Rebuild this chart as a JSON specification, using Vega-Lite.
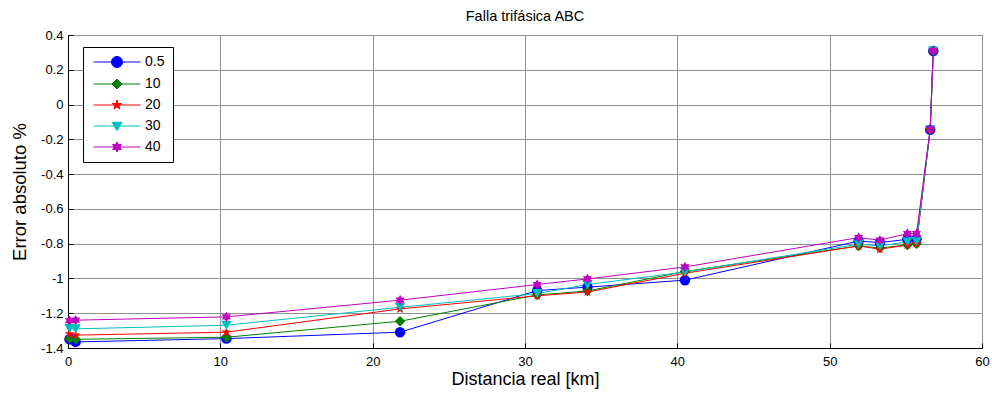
{
  "$schema": "https://vega.github.io/schema/vega-lite/v6.json",
  "width": 914,
  "height": 313,
  "autosize": {"type": "none"},
  "padding": {"left": 68, "top": 35, "right": 10, "bottom": 48},
  "background": "white",
  "title": {"text": "Falla trifásica ABC", "fontSize": 14.5, "fontWeight": "normal", "font": "Liberation Sans", "color": "black", "offset": 5},
  "config": {
    "font": "Liberation Sans",
    "view": {"stroke": "black", "strokeWidth": 1},
    "axis": {
      "labelFont": "Liberation Sans", "labelFontSize": 13, "labelColor": "black",
      "titleFont": "Liberation Sans", "titleFontWeight": "normal", "titleColor": "black",
      "domainColor": "black", "tickColor": "black", "gridColor": "#8f8f8f", "gridWidth": 1,
      "ticks": true, "tickSize": -5, "labelExpr": "'' + datum.value"
    }
  },
  "data": {"values": [
    {"s": "0.5", "d": 0.1, "e": -1.35}, {"s": "0.5", "d": 0.5, "e": -1.365}, {"s": "0.5", "d": 10.4, "e": -1.346}, {"s": "0.5", "d": 21.8, "e": -1.309}, {"s": "0.5", "d": 30.8, "e": -1.07}, {"s": "0.5", "d": 34.1, "e": -1.05}, {"s": "0.5", "d": 40.5, "e": -1.01}, {"s": "0.5", "d": 51.9, "e": -0.785}, {"s": "0.5", "d": 53.3, "e": -0.794}, {"s": "0.5", "d": 55.1, "e": -0.775}, {"s": "0.5", "d": 55.7, "e": -0.775}, {"s": "0.5", "d": 56.6, "e": -0.145}, {"s": "0.5", "d": 56.8, "e": 0.308},
    {"s": "10", "d": 0.1, "e": -1.345}, {"s": "10", "d": 0.5, "e": -1.35}, {"s": "10", "d": 10.4, "e": -1.338}, {"s": "10", "d": 21.8, "e": -1.246}, {"s": "10", "d": 30.8, "e": -1.095}, {"s": "10", "d": 34.1, "e": -1.072}, {"s": "10", "d": 40.5, "e": -0.96}, {"s": "10", "d": 51.9, "e": -0.813}, {"s": "10", "d": 53.3, "e": -0.825}, {"s": "10", "d": 55.1, "e": -0.808}, {"s": "10", "d": 55.7, "e": -0.8}, {"s": "10", "d": 56.6, "e": -0.145}, {"s": "10", "d": 56.8, "e": 0.308},
    {"s": "20", "d": 0.1, "e": -1.319}, {"s": "20", "d": 0.5, "e": -1.326}, {"s": "20", "d": 10.4, "e": -1.309}, {"s": "20", "d": 21.8, "e": -1.175}, {"s": "20", "d": 30.8, "e": -1.1}, {"s": "20", "d": 34.1, "e": -1.078}, {"s": "20", "d": 40.5, "e": -0.97}, {"s": "20", "d": 51.9, "e": -0.813}, {"s": "20", "d": 53.3, "e": -0.832}, {"s": "20", "d": 55.1, "e": -0.808}, {"s": "20", "d": 55.7, "e": -0.8}, {"s": "20", "d": 56.6, "e": -0.145}, {"s": "20", "d": 56.8, "e": 0.308},
    {"s": "30", "d": 0.1, "e": -1.288}, {"s": "30", "d": 0.5, "e": -1.29}, {"s": "30", "d": 10.4, "e": -1.269}, {"s": "30", "d": 21.8, "e": -1.166}, {"s": "30", "d": 30.8, "e": -1.087}, {"s": "30", "d": 34.1, "e": -1.035}, {"s": "30", "d": 40.5, "e": -0.963}, {"s": "30", "d": 51.9, "e": -0.803}, {"s": "30", "d": 53.3, "e": -0.813}, {"s": "30", "d": 55.1, "e": -0.789}, {"s": "30", "d": 55.7, "e": -0.786}, {"s": "30", "d": 56.6, "e": -0.145}, {"s": "30", "d": 56.8, "e": 0.308},
    {"s": "40", "d": 0.1, "e": -1.242}, {"s": "40", "d": 0.5, "e": -1.24}, {"s": "40", "d": 10.4, "e": -1.221}, {"s": "40", "d": 21.8, "e": -1.125}, {"s": "40", "d": 30.8, "e": -1.035}, {"s": "40", "d": 34.1, "e": -1.003}, {"s": "40", "d": 40.5, "e": -0.934}, {"s": "40", "d": 51.9, "e": -0.765}, {"s": "40", "d": 53.3, "e": -0.78}, {"s": "40", "d": 55.1, "e": -0.742}, {"s": "40", "d": 55.7, "e": -0.742}, {"s": "40", "d": 56.6, "e": -0.14}, {"s": "40", "d": 56.8, "e": 0.31}
  ]},
  "encoding": {
    "x": {"field": "d", "type": "quantitative", "scale": {"domain": [0, 60], "nice": false},
      "axis": {"title": "Distancia real [km]", "titleFontSize": 18, "values": [0, 10, 20, 30, 40, 50, 60], "labelPadding": 12, "titlePadding": 2, "labelFlush": false}},
    "y": {"field": "e", "type": "quantitative", "scale": {"domain": [-1.4, 0.4], "nice": false, "zero": false},
      "axis": {"title": "Error absoluto %", "titleFontSize": 18.5, "values": [-1.4, -1.2, -1, -0.8, -0.6, -0.4, -0.2, 0, 0.2, 0.4], "labelPadding": 10, "titlePadding": 11, "labelFlush": false}}
  },
  "layer": [
    {
      "mark": {"type": "line", "strokeWidth": 1},
      "encoding": {
        "stroke": {"field": "s", "type": "nominal",
          "scale": {"domain": ["0.5", "10", "20", "30", "40"], "range": ["#0000ff", "#008000", "#ff0000", "#00bfbf", "#bf00bf"]},
          "legend": null}
      }
    },
    {
      "mark": {"type": "point", "filled": true, "opacity": 1, "size": 110},
      "encoding": {
        "fill": {"field": "s", "type": "nominal",
          "scale": {"range": ["#0000ff", "#008000", "#ff0000", "#00bfbf", "#bf00bf"]},
          "legend": {"orient": "none", "legendX": 15, "legendY": 12, "title": null, "symbolSize": 100, "symbolStrokeWidth": 1, "symbolOpacity": 1, "labelFontSize": 14, "labelColor": "black", "labelOffset": 21, "padding": 8, "rowPadding": 7, "symbolOffset": 19, "fillColor": "white", "strokeColor": "black",
            "encode": {"symbols": {"update": {
              "stroke": {"scale": "fill", "field": "value"},
              "strokeWidth": {"value": 1},
              "shape": {"signal": "datum.value === '0.5' ? 'M-4.7,0L4.7,0M-1.1,0A1.1,1.1,0,1,1,1.1,0A1.1,1.1,0,1,1,-1.1,0Z' : datum.value === '10' ? 'M-4.7,0L4.7,0M-1,0L0,-1L1,0L0,1Z' : datum.value === '20' ? 'M-4.7,0L4.7,0M0,-1L0.2245,-0.309L0.951,-0.309L0.363,0.118L0.588,0.809L0,0.382L-0.588,0.809L-0.363,0.118L-0.951,-0.309L-0.2245,-0.309Z' : datum.value === '30' ? 'M-4.7,0L4.7,0M-1,-0.75L1,-0.75L0,0.95Z' : 'M-4.7,0L4.7,0M0,-1L0.289,-0.5L0.866,-0.5L0.577,0L0.866,0.5L0.289,0.5L0,1L-0.289,0.5L-0.866,0.5L-0.577,0L-0.866,-0.5L-0.289,-0.5Z'"}
            }}}}},
        "shape": {"field": "s", "type": "nominal",
          "scale": {"domain": ["0.5", "10", "20", "30", "40"], "range": ["circle", "diamond", "M0,-1L0.2245,-0.309L0.951,-0.309L0.363,0.118L0.588,0.809L0,0.382L-0.588,0.809L-0.363,0.118L-0.951,-0.309L-0.2245,-0.309Z", "triangle-down", "M0,-1L0.289,-0.5L0.866,-0.5L0.577,0L0.866,0.5L0.289,0.5L0,1L-0.289,0.5L-0.866,0.5L-0.577,0L-0.866,-0.5L-0.289,-0.5Z"]},
          "legend": null}
      }
    }
  ]
}
